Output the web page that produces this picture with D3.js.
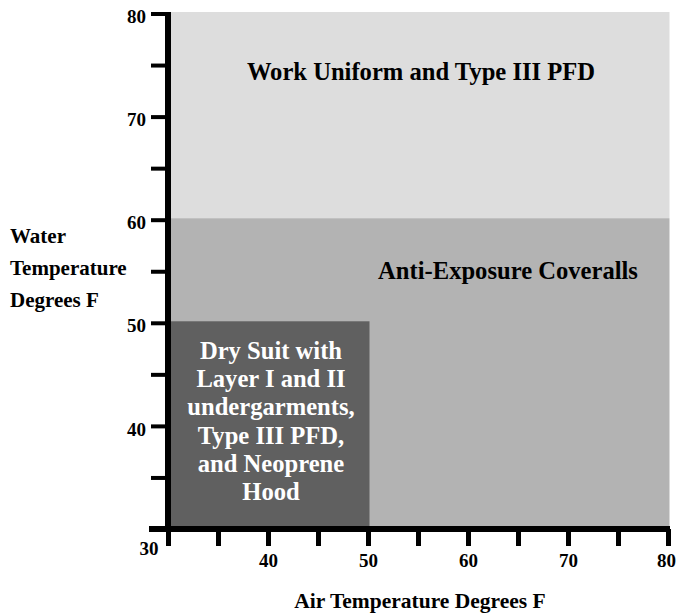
<!DOCTYPE html>
<html><head><meta charset="utf-8">
<script src="https://cdn.jsdelivr.net/npm/d3@7"></script>
<style>
body{margin:0;background:#fff;}
svg{display:block;font-family:"Liberation Serif","Times New Roman",serif;font-weight:bold;}
</style></head><body>
<script>
// ---- data ----
const zoneNames = ["Work Uniform and Type III PFD", "Anti-Exposure Coveralls", "Dry Suit"];
const zoneAirMin = [30, 30, 30];
const zoneAirMax = [80, 80, 50];
const zoneWaterMin = [60, 30, 30];
const zoneWaterMax = [80, 60, 50];
const zoneLabelLines = [
  ["Work Uniform and Type III PFD"],
  ["Anti-Exposure Coveralls"],
  ["Dry Suit with", "Layer I and II", "undergarments,", "Type III PFD,", "and Neoprene", "Hood"]
];
const zoneLabelAir = [55.3, 64.0, 40.3];
const zoneLabelWater = [74.4, 55.1, 40.5];
const xTicks = [30, 35, 40, 45, 50, 55, 60, 65, 70, 75, 80];
const xTickLabels = ["", "", "40", "", "50", "", "60", "", "70", "", "80"];
const yTicks = [30, 35, 40, 45, 50, 55, 60, 65, 70, 75, 80];
const yTickLabels = ["", "", "40", "", "50", "", "60", "", "70", "", "80"];
const originLabel = "30";
const yTitleLines = ["Water", "Temperature", "Degrees F"];
const xTitle = "Air Temperature Degrees F";

// ---- layout / style ----
const W = 676, H = 613;
const zoneColors = ["#dddddd", "#b3b3b3", "#606060"];
const zoneTextColors = ["#000", "#000", "#fff"];

const x = d3.scaleLinear().domain([30, 80]).range([168, 668]);
const y = d3.scaleLinear().domain([30, 80]).range([529, 13.5]);

const svg = d3.select("body").append("svg").attr("width", W).attr("height", H);

// zones
const zones = zoneNames.map((n, i) => ({i}));
svg.append("g").selectAll("rect").data(zones).join("rect")
  .attr("x", d => x(zoneAirMin[d.i]))
  .attr("y", d => y(zoneWaterMax[d.i]) - 1.5)
  .attr("width", d => x(zoneAirMax[d.i]) - x(zoneAirMin[d.i]) + 1.5)
  .attr("height", d => y(zoneWaterMin[d.i]) - y(zoneWaterMax[d.i]))
  .attr("fill", d => zoneColors[d.i]);

// zone labels
const lh = 28.3;
svg.append("g").selectAll("text").data(zones).join("text")
  .attr("text-anchor", "middle")
  .attr("font-size", 24.6)
  .attr("fill", d => zoneTextColors[d.i])
  .each(function(d) {
    const lines = zoneLabelLines[d.i];
    const t = d3.select(this);
    const cx = x(zoneLabelAir[d.i]);
    const cy = y(zoneLabelWater[d.i]) - (lines.length - 1) * lh / 2;
    lines.forEach((ln, k) => {
      t.append("tspan").attr("x", cx).attr("y", cy + k * lh).attr("dy", "0.35em").text(ln);
    });
  });

// y axis
const yAxis = d3.axisLeft(y).tickValues(yTicks)
  .tickFormat((d, i) => yTickLabels[i]).tickSize(17).tickSizeOuter(0).tickPadding(5);
const gy = svg.append("g").attr("transform", `translate(${x(30)},0)`).call(yAxis);
gy.select(".domain").remove();
gy.selectAll(".tick line").attr("stroke", "#000").attr("stroke-width", 4);
gy.selectAll(".tick text").attr("font-size", 19).attr("fill", "#000")
  .attr("font-family", "Liberation Serif, serif").attr("font-weight", "bold").attr("dy", "0.48em");
gy.append("line").attr("x1", 0).attr("x2", 0)
  .attr("y1", y(80) - 1.5).attr("y2", y(30) + 3)
  .attr("stroke", "#000").attr("stroke-width", 6);

// x axis
const xAxis = d3.axisBottom(x).tickValues(xTicks)
  .tickFormat((d, i) => xTickLabels[i]).tickSize(17).tickSizeOuter(0).tickPadding(8);
const gx = svg.append("g").attr("transform", `translate(0,${y(30)})`).call(xAxis);
gx.select(".domain").remove();
gx.selectAll(".tick line").attr("stroke", "#000").attr("stroke-width", 5);
gx.selectAll(".tick text").attr("font-size", 19).attr("fill", "#000")
  .attr("font-family", "Liberation Serif, serif").attr("font-weight", "bold");
// keep the last label inside the page edge
gx.selectAll(".tick text").filter(d => d === 80).attr("text-anchor", "end").attr("dx", "0.5em");
gx.selectAll(".tick text").filter(d => d === 80).attr("x", -2);
gx.append("line").attr("x1", x(30) - 19).attr("x2", x(80) + 2)
  .attr("y1", 0).attr("y2", 0).attr("stroke", "#000").attr("stroke-width", 6);

// origin label
svg.append("text").attr("x", x(30) - 19).attr("y", y(30) + 26)
  .attr("text-anchor", "middle").attr("font-size", 19).text(originLabel);

// y title
const yt = svg.append("text").attr("font-size", 21);
yTitleLines.forEach((ln, k) => {
  yt.append("tspan").attr("x", 10).attr("y", 243 + k * 32).text(ln);
});

// x title
svg.append("text").attr("x", 420).attr("y", 608).attr("text-anchor", "middle")
  .attr("font-size", 21.5).text(xTitle);
</script>
</body></html>
